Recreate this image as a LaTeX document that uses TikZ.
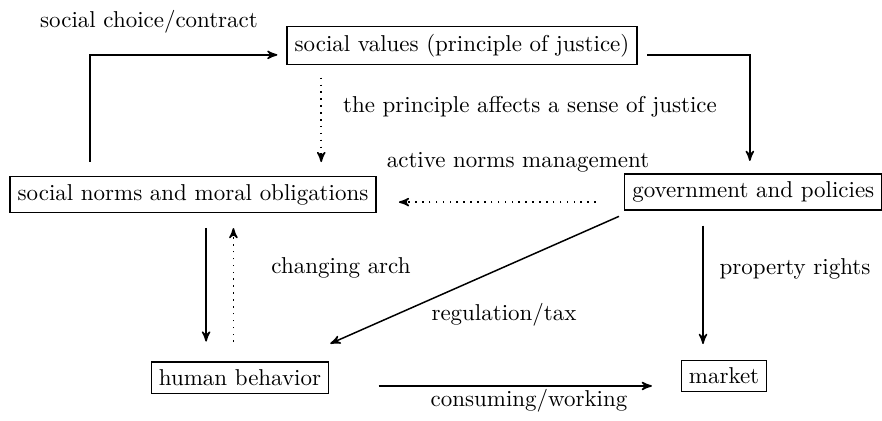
\documentclass[tikz,border=0pt]{standalone}
\usepackage{xcolor}
\usepackage{tikz}
\usetikzlibrary{shapes, arrows}

\begin{document}
\begin{tikzpicture}[-,>=stealth',x=0.01531cm,y=-0.01531cm,line width=0.65pt,
      main node/.style={rectangle,draw,line width=0.55pt}, other node/.style={anchor=base},
      dot line/.style={dash pattern=on 0.7pt off 2.3pt}]
    \useasboundingbox (0,0) rectangle (882,421);

        \node[main node] (values) at (462,45.5) {social values (principle of justice)};
        \node[main node] (norms) at (193,194.5) {social norms and moral obligations};
        \node[main node] (gov) at (753.3,192) {government and policies};
        \node[main node] (human) at (240,377.7) {human behavior};
        \node[main node] (market) at (724,376) {market};

        \node[other node] (choice) at (149,28) {social choice/contract};
        \node[other node] (affects) at (530,113) {the principle affects a sense of justice};
        \node[other node] (manage) at (518,168) {active norms management};
        \node[other node] (arch) at (341,274) {changing arch};
        \node[other node] (tax) at (504,321) {regulation/tax};
        \node[other node] (rights) at (795,275) {property rights};
        \node[other node] (work) at (529,407) {consuming/working};

        \coordinate (v1) at ([xshift=-61.3pt]values.south);
        \coordinate (g1) at ([yshift=-4.4pt]gov.west);
        \coordinate (n1) at ([xshift=5.7pt]norms.south);
        \coordinate (n2) at ([xshift=17.6pt]norms.south);
        \coordinate (g2) at ([xshift=-21.9pt]gov.south);
        \coordinate (h1) at ([yshift=-3.6pt]human.east);

        \draw[->,shorten <=6.1pt,shorten >=3.9pt] ([xshift=-44.9pt]norms.north) |- ([yshift=-4.1pt]values.west);
        \draw[->,shorten <=4.2pt,shorten >=5.4pt] ([yshift=-4.1pt]values.east) -| ([xshift=-1.5pt]gov.north);
        \draw[->,dot line,shorten <=5.4pt,shorten >=6pt] (v1) -- (v1 |- norms.north);
        \draw[->,dot line,shorten <=12.3pt,shorten >=9.7pt] (g1) -- (g1 -| norms.east);
        \draw[->,shorten <=6.4pt,shorten >=8.6pt] (n1) -- (n1 |- human.north);
        \draw[->,dot line,shorten <=8.4pt,shorten >=6.5pt] (n2 |- human.north) -- (n2);
        \draw[->] ([xshift=-2.2pt,yshift=-2.5pt]gov.south west) -- ([xshift=0.4pt,yshift=7.7pt]human.north east);
        \draw[->,shorten <=6.5pt,shorten >=6.8pt] (g2) -- (g2 |- market.north);
        \draw[->,shorten <=21.5pt,shorten >=12.5pt] (h1) -- (h1 -| market.west);
    \end{tikzpicture}
\end{document}
